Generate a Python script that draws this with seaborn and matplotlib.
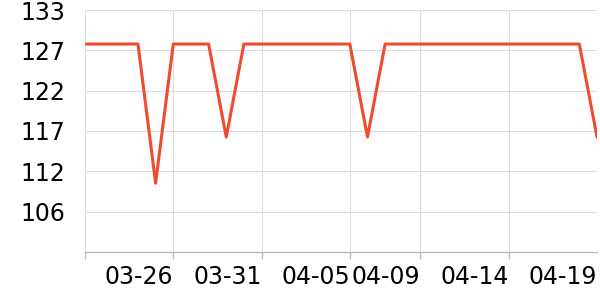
import numpy as np
import pandas as pd
import matplotlib
matplotlib.use("Agg")
import matplotlib.pyplot as plt
import seaborn as sns

# --- data ---
dates = pd.date_range("2024-03-21", periods=30, freq="D").strftime("%m-%d").tolist()
values = [128.5, 128.5, 128.5, 128.5, 110.1, 128.5, 128.5, 128.5, 116.2, 128.5,
          128.5, 128.5, 128.5, 128.5, 128.5, 128.5, 116.2, 128.5, 128.5, 128.5,
          128.5, 128.5, 128.5, 128.5, 128.5, 128.5, 128.5, 128.5, 128.5, 116.2]
x_tick_idx = [0, 5, 10, 15, 19, 24, 29]
y_tick_labels = ["106", "112", "117", "122", "127", "133"]
y_min, y_max = 101, 133

df = pd.DataFrame({"idx": np.arange(len(values)), "value": values})

sns.set_style("whitegrid")
plt.rcParams["font.family"] = ["DejaVu Sans"]

fig = plt.figure(figsize=(6, 3), dpi=100)
ax = fig.add_axes([85/600, 1-252/300, (597-85)/600, (252-10)/300])

sns.lineplot(data=df, x="idx", y="value", ax=ax, color="#ef4b2e", linewidth=2.2)

ax.set_xlim(0, len(values) - 1)
ax.set_ylim(y_min, y_max)

ax.set_xticks(x_tick_idx)
xlabels = [dates[i] for i in x_tick_idx]
xlabels[0] = ""
ax.set_xticklabels(xlabels, ha="right")
yticks = np.linspace(y_min, y_max, 7)[1:]
ax.set_yticks(yticks)
ax.set_yticklabels(y_tick_labels)

ax.set_xlabel("")
ax.set_ylabel("")
ax.grid(True, color="#dddddd", linewidth=0.8)
for s in ["top", "right", "left"]:
    ax.spines[s].set_visible(False)
ax.spines["bottom"].set_visible(True)
ax.spines["bottom"].set_color("#bbbbbb")
ax.spines["bottom"].set_linewidth(1.0)

ax.tick_params(axis="x", length=5, color="#bbbbbb", width=1.0, pad=4,
               labelsize=17, labelcolor="black", bottom=True)
ax.tick_params(axis="y", length=0, pad=14, labelsize=17, labelcolor="black")

last = ax.xaxis.get_major_ticks()[-1]
last.tick1line.set_visible(False)
last.gridline.set_visible(False)

fig.savefig("out.png", dpi=100)
